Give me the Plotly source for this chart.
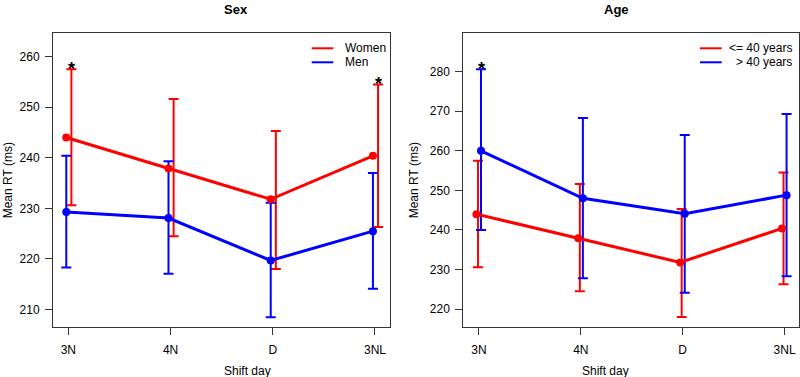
import plotly.graph_objects as go
import numpy as np

days = ["3N", "4N", "D", "3NL"]

# Sex panel
women_mean = [244.0, 237.9, 231.8, 240.4]
women_upper = [257.5, 251.6, 245.3, 254.5]
women_lower = [230.6, 224.5, 218.0, 226.3]
men_mean = [229.3, 228.1, 219.7, 225.5]
men_upper = [240.4, 239.3, 231.1, 237.0]
men_lower = [218.3, 217.1, 208.5, 214.1]

# Age panel
young_mean = [244.0, 237.9, 231.8, 240.4]
young_upper = [257.5, 251.6, 245.3, 254.5]
young_lower = [230.6, 224.5, 218.0, 226.3]
old_mean = [260.0, 248.0, 244.1, 248.8]
old_upper = [280.6, 268.3, 264.0, 269.3]
old_lower = [240.0, 227.8, 224.1, 228.3]

RED = "#FF0000"
BLUE = "#0000FF"
FONT = "Liberation Sans, Arial, sans-serif"
W, H = 800, 377

def px(x):
    return x / W

def py(y):
    return 1 - y / H

fig = go.Figure()
xi = np.arange(len(days))

def add_series(mean, upper, lower, color, dot_off, bar_off, xa, ya):
    mean = np.array(mean); upper = np.array(upper); lower = np.array(lower)
    fig.add_trace(go.Scatter(
        x=xi + bar_off, y=mean, mode="markers",
        marker=dict(size=1, color="rgba(0,0,0,0)"),
        error_y=dict(type="data", symmetric=False, array=upper - mean,
                     arrayminus=mean - lower, color=color, thickness=2, width=5),
        xaxis=xa, yaxis=ya, showlegend=False, hoverinfo="skip"))
    return (xi + dot_off, mean, color, xa, ya)

lines = []
lines.append(add_series(women_mean, women_upper, women_lower, RED, -0.02, 0.03, "x", "y"))
lines.append(add_series(men_mean, men_upper, men_lower, BLUE, -0.02, -0.02, "x", "y"))
lines.append(add_series(young_mean, young_upper, young_lower, RED, -0.025, -0.01, "x2", "y2"))
lines.append(add_series(old_mean, old_upper, old_lower, BLUE, 0.02, 0.02, "x2", "y2"))

for (x, y, c, xa, ya) in lines:
    fig.add_trace(go.Scatter(
        x=x, y=y, mode="lines+markers",
        line=dict(color=c, width=3), marker=dict(color=c, size=8),
        xaxis=xa, yaxis=ya, showlegend=False))

axis_common = dict(
    showline=True, mirror=True, linecolor="#333333", linewidth=1,
    ticks="outside", ticklen=7, tickcolor="#333333", tickwidth=1,
    showgrid=False, zeroline=False,
    tickfont=dict(family=FONT, size=12, color="black"),
)

ydom = [py(327.3), py(33.3)]
fig.update_layout(
    width=W, height=H, margin=dict(l=0, r=0, t=0, b=0),
    plot_bgcolor="white", paper_bgcolor="white",
    xaxis=dict(domain=[px(53), px(390)], range=[-0.15, 3.147],
               tickvals=list(xi), ticktext=days, ticklabelstandoff=4, **axis_common),
    yaxis=dict(domain=ydom, range=[206.5, 264.6], tickvals=[210, 220, 230, 240, 250, 260],
               ticklabelstandoff=3, **axis_common),
    xaxis2=dict(domain=[px(463.3), px(798.5)], range=[-0.154, 3.137], anchor="y2",
                tickvals=list(xi), ticktext=days, ticklabelstandoff=4, **axis_common),
    yaxis2=dict(domain=ydom, range=[215.4, 289.7], anchor="x2",
                tickvals=[220, 230, 240, 250, 260, 270, 280],
                ticklabelstandoff=3, **axis_common),
)

ann = []
# titles
ann.append(dict(text="<b>Sex</b>", x=px(221.5), y=py(0), xref="paper", yref="paper",
                showarrow=False, yanchor="top", font=dict(family=FONT, size=13, color="black")))
ann.append(dict(text="<b>Age</b>", x=px(631), y=py(0), xref="paper", yref="paper",
                showarrow=False, yanchor="top", font=dict(family=FONT, size=13, color="black")))
# axis titles
for cx in (221.5, 631):
    ann.append(dict(text="Shift day", x=px(cx), y=py(370.5), xref="paper", yref="paper",
                    showarrow=False, yanchor="middle",
                    font=dict(family=FONT, size=12, color="black")))
for cx in (8, 414):
    ann.append(dict(text="Mean RT (ms)", x=px(cx), y=py(180.3), xref="paper", yref="paper",
                    textangle=-90, showarrow=False, xanchor="center", yanchor="middle",
                    font=dict(family=FONT, size=12, color="black")))
# asterisks
stars = [("x", "y", 0 + 0.03, women_upper[0]), ("x", "y", 3 + 0.03, women_upper[3]),
         ("x2", "y2", 0 + 0.02, old_upper[0])]
for xa, ya, x, y in stars:
    ann.append(dict(text="<b>*</b>", x=x, y=y, xref=xa, yref=ya, showarrow=False,
                    yanchor="middle", yshift=0,
                    font=dict(family=FONT, size=18, color="black")))
# legends
legend_items = [
    (311.7, 333.3, 48.3, RED, "Women", 343.3, "left"),
    (311.7, 333.3, 62.3, BLUE, "Men", 343.3, "left"),
    (700, 721.7, 48.3, RED, "&lt;= 40 years", 794, "right"),
    (700, 721.7, 62.3, BLUE, "&gt; 40 years", 794, "right"),
]
shapes = []
for x0, x1, yy, c, label, tx, anc in legend_items:
    shapes.append(dict(type="line", xref="paper", yref="paper", x0=px(x0), x1=px(x1),
                       y0=py(yy), y1=py(yy), line=dict(color=c, width=2)))
    ann.append(dict(text=label, x=px(tx), y=py(yy), xref="paper", yref="paper",
                    xanchor=anc, yanchor="middle", showarrow=False,
                    font=dict(family=FONT, size=12, color="black")))

fig.update_layout(annotations=ann, shapes=shapes)
fig.write_html("out.html", config={"displayModeBar": False},
               post_script="document.body.style.margin='0px';document.body.style.overflow='hidden';")
